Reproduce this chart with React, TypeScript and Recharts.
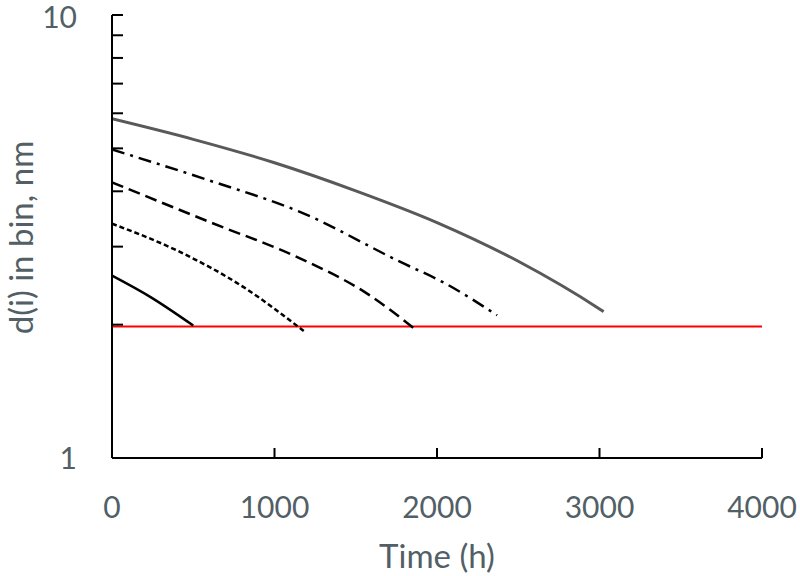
import React from 'react';
import { LineChart, Line, XAxis, YAxis } from 'recharts';

// Time (h) and d(i) values for each curve
const grayTime = [0, 500, 1000, 1500, 2000, 2500, 3000, 3025];
const grayD = [5.83, 5.24, 4.64, 4.01, 3.4, 2.78, 2.17, 2.14];

const dashDotTime = [0, 600, 1160, 1775, 2040, 2370];
const dashDotD = [4.97, 4.23, 3.59, 2.77, 2.49, 2.1];

const dashedTime = [0, 600, 1160, 1570, 1860];
const dashedD = [4.19, 3.41, 2.82, 2.35, 1.96];

const dottedTime = [0, 400, 810, 1180];
const dottedD = [3.38, 2.94, 2.43, 1.935];

const solidTime = [0, 235, 500];
const solidD = [2.58, 2.31, 1.99];

const redTime = [0, 4000];
const redD = [1.98, 1.98];

const xTicks = [0, 1000, 2000, 3000, 4000];
const yTicks = [1, 2, 3, 4, 5, 6, 7, 8, 9, 10];
const yLabeled = [1, 10];

const toRows = (t: number[], d: number[]) => t.map((x, i) => ({ t: x, d: d[i] }));

const FONT = 'Lato, "Open Sans", sans-serif';
const TEXT = '#525f66';

const XTick = (props: any) => {
  const { x, y, payload } = props;
  return (
    <g>
      {payload.value !== 0 && (
        <line x1={x} y1={y} x2={x} y2={y - 10} stroke="#000" strokeWidth={2} />
      )}
      <text x={x} y={y + 60} textAnchor="middle" fill={TEXT} fontSize={30} fontFamily={FONT}>
        {payload.value}
      </text>
    </g>
  );
};

const YTick = (props: any) => {
  const { x, y, payload } = props;
  const isTop = payload.value === 10;
  return (
    <g>
      {payload.value !== 1 && (
        <line x1={x} y1={y} x2={x + 11} y2={y} stroke="#000" strokeWidth={2} />
      )}
      {yLabeled.includes(payload.value) && (
        <text x={x - 35} y={y + (isTop ? 13 : 11)} textAnchor="end" fill={TEXT} fontSize={30} fontFamily={FONT}>
          {payload.value}
        </text>
      )}
    </g>
  );
};

const YLabel = (props: any) => {
  const vb = props.viewBox || { x: 0, y: 15, width: 112, height: 443 };
  const cx = vb.x + 20;
  const cy = vb.y + vb.height / 2 + 1;
  return (
    <text
      x={cx}
      y={cy}
      transform={`rotate(-90 ${cx} ${cy})`}
      textAnchor="middle"
      dominantBaseline="central"
      fill={TEXT}
      fontSize={33}
      fontFamily={FONT}
    >
      d(i) in bin, nm
    </text>
  );
};

const XLabel = (props: any) => {
  const vb = props.viewBox || { x: 112, y: 458, width: 650, height: 118 };
  const cx = vb.x + vb.width / 2;
  return (
    <text x={cx} y={vb.y + 110} textAnchor="middle" fill={TEXT} fontSize={33} fontFamily={FONT}>
      Time (h)
    </text>
  );
};

export default function App() {
  return (
    <div style={{ position: 'absolute', left: 0, top: 0, width: 800, height: 576, background: '#fff' }}>
      <LineChart width={800} height={576} margin={{ top: 15, right: 38, bottom: 0, left: 0 }}>
        <XAxis
          dataKey="t"
          type="number"
          domain={[0, 4000]}
          ticks={xTicks}
          allowDataOverflow
          tickSize={0}
          tickMargin={0}
          tickLine={false}
          axisLine={{ stroke: '#000', strokeWidth: 2 }}
          tick={<XTick />}
          height={118}
          interval={0}
          label={<XLabel />}
        />
        <YAxis
          dataKey="d"
          type="number"
          scale="log"
          domain={[1, 10]}
          ticks={yTicks}
          allowDataOverflow
          tickSize={0}
          tickMargin={0}
          tickLine={false}
          axisLine={{ stroke: '#000', strokeWidth: 2 }}
          tick={<YTick />}
          width={112}
          interval={0}
          label={<YLabel />}
        />
        <Line data={toRows(redTime, redD)} dataKey="d" stroke="#ff0000" strokeWidth={2} dot={false} isAnimationActive={false} type="linear" />
        <Line data={toRows(grayTime, grayD)} dataKey="d" stroke="#595959" strokeWidth={3} dot={false} isAnimationActive={false} type="monotone" />
        <Line data={toRows(dashDotTime, dashDotD)} dataKey="d" stroke="#000" strokeWidth={2.5} strokeDasharray="13 6 3 6" dot={false} isAnimationActive={false} type="monotone" />
        <Line data={toRows(dashedTime, dashedD)} dataKey="d" stroke="#000" strokeWidth={2.5} strokeDasharray="12 6" dot={false} isAnimationActive={false} type="monotone" />
        <Line data={toRows(dottedTime, dottedD)} dataKey="d" stroke="#000" strokeWidth={2.5} strokeDasharray="5 3" dot={false} isAnimationActive={false} type="monotone" />
        <Line data={toRows(solidTime, solidD)} dataKey="d" stroke="#000" strokeWidth={2.5} dot={false} isAnimationActive={false} type="monotone" />
      </LineChart>
    </div>
  );
}
